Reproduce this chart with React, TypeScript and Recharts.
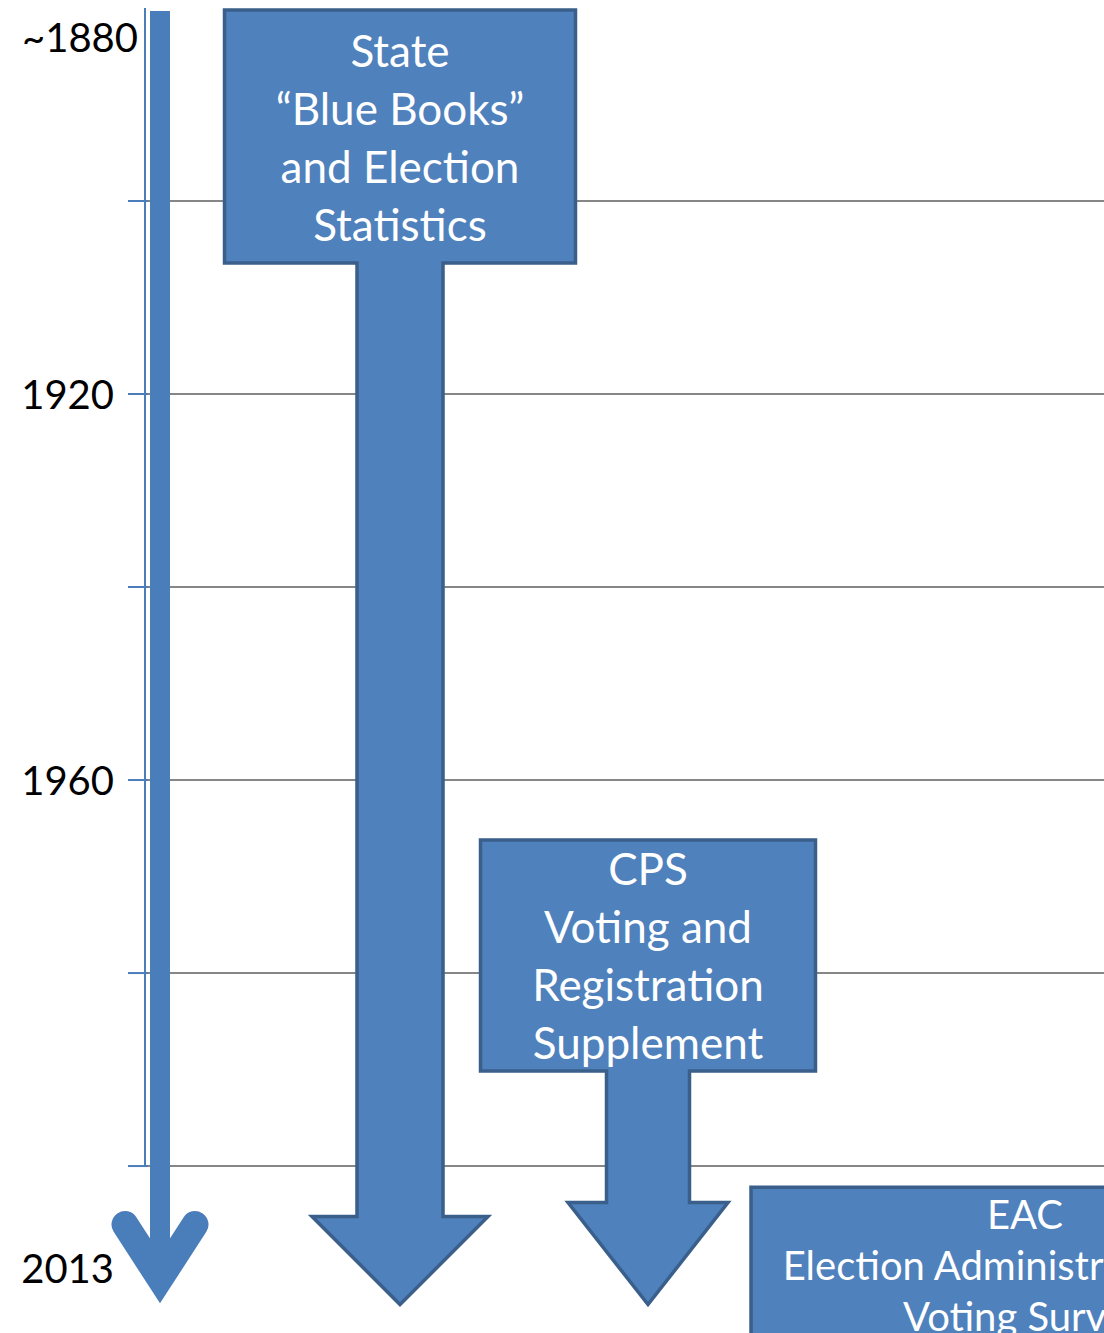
import React from "react";
import {
  ComposedChart,
  Bar,
  XAxis,
  YAxis,
  CartesianGrid,
  ReferenceLine,
  ReferenceArea
} from "recharts";

// data
const sourceNames = ["State Blue Books", "CPS Voting and Registration Supplement", "EAC Election Administration and Voting Survey"];
const sourceLines = [
  ["State", "\u201CBlue Books\u201D", "and Election", "Statistics"],
  ["CPS", "Voting and", "Registration", "Supplement"],
  ["EAC", "Election Administration and", "Voting Survey"]
];
const startYears = [1880, 1966, 2002];
const endYears = [2013, 2013, 2013];
const gridYears = [1900, 1920, 1940, 1960, 1980, 2000];
const tickYears = [1880, 1900, 1920, 1940, 1960, 1980, 2000, 2013];
const tickLabels: Record<number, string> = { 1880: "~1880", 1920: "1920", 1960: "1960", 2013: "2013" };

// layout (pixels)
const laneCenters = [400, 648, 1025];
const arrowStyle = [
  { boxW: 351, boxH: 253, shaftW: 86, headW: 176, headLen: 88, tipPast: 13, lineH: 58, fontSize: 44 },
  { boxW: 335, boxH: 231, shaftW: 83, headW: 160, headLen: 102, tipPast: 13, lineH: 58, fontSize: 44 },
  { boxW: 548, boxH: 156, shaftW: 0, headW: 0, headLen: 0, tipPast: 0, lineH: 51, fontSize: 40 }
];
const labelOffsets: Record<number, number> = { 1880: 29, 1920: 0, 1960: 0, 2013: -24 };

const FONT = "Lato, 'Open Sans', sans-serif";
const FILL = "#4F81BD";
const EDGE = "#3A5F8B";
const AXIS_BLUE = "#4A7EBB";

const data = sourceNames.map((name, i) => ({
  name,
  lane: laneCenters[i],
  span: [startYears[i], endYears[i]],
  lines: sourceLines[i]
}));

function SourceArrow(props: any) {
  const { x, y, width, height, index } = props;
  const entry = props.payload ?? props;
  const s = arrowStyle[index];
  const cx = x + width / 2;
  const top = Math.min(y, y + height) + 2;
  const bottom = Math.max(y, y + height);
  const bx0 = cx - s.boxW / 2;
  const bx1 = cx + s.boxW / 2;
  const by1 = top + s.boxH;
  let d: string;
  if (s.headLen) {
    const tip = bottom + s.tipPast;
    const hb = tip - s.headLen;
    d = `M${bx0},${top} H${bx1} V${by1} H${cx + s.shaftW / 2} V${hb} H${cx + s.headW / 2} L${cx},${tip} L${cx - s.headW / 2},${hb} H${cx - s.shaftW / 2} V${by1} H${bx0} Z`;
  } else {
    d = `M${bx0},${top} H${bx1} V${by1} H${bx0} Z`;
  }
  const lines: string[] = entry.lines;
  const midY = top + s.boxH / 2;
  const firstY = midY - ((lines.length - 1) * s.lineH) / 2;
  return (
    <g>
      <path d={d} fill={FILL} stroke={EDGE} strokeWidth={3.5} strokeLinejoin="miter" />
      {lines.map((t, i) => (
        <text
          key={i}
          x={cx}
          y={firstY + i * s.lineH}
          textAnchor="middle"
          dominantBaseline="central"
          fill="#fff"
          fontSize={s.fontSize}
          fontFamily={FONT}
        >
          {t}
        </text>
      ))}
    </g>
  );
}

function TimelineShape(props: any) {
  const { x, y, width, height } = props;
  const cx = x + width / 2;
  const bottom = y + height;
  return (
    <g>
      <rect x={x} y={y + 3} width={width} height={height - 20} fill={AXIS_BLUE} />
      <polyline
        points={`${cx - 35},${bottom - 67} ${cx},${bottom - 13} ${cx + 35},${bottom - 67}`}
        fill="none"
        stroke={AXIS_BLUE}
        strokeWidth={27}
        strokeLinecap="round"
        strokeLinejoin="miter"
      />
    </g>
  );
}

function YearTick(props: any) {
  const { x, y, payload } = props;
  const v = payload.value as number;
  const label = tickLabels[v];
  const isGrid = gridYears.includes(v);
  return (
    <g>
      {isGrid && <line x1={x - 17} x2={x + 3} y1={y} y2={y} stroke={AXIS_BLUE} strokeWidth={2} />}
      {label && (
        <text
          x={v === 1880 ? x - 7 : x - 31}
          y={y + labelOffsets[v]}
          textAnchor="end"
          dominantBaseline="central"
          fill="#000"
          fontSize={40}
          fontFamily={FONT}
        >
          {label}
        </text>
      )}
    </g>
  );
}

export default function App() {
  return (
    <div style={{ position: "absolute", left: 0, top: 0, width: 1104, height: 1333, background: "#fff" }}>
      <ComposedChart width={1104} height={1333} data={data} margin={{ top: 8, right: 0, bottom: 41.5, left: 0 }}>
        <CartesianGrid vertical={false} horizontalValues={gridYears} stroke="#868686" strokeWidth={2} />
        <XAxis dataKey="lane" type="number" domain={[145, 1104]} hide />
        <YAxis
          type="number"
          domain={[1880, 2013]}
          reversed
          ticks={tickYears}
          interval={0}
          width={145}
          axisLine={false}
          tickLine={false}
          tickSize={0}
          tickMargin={0}
          tick={<YearTick />}
        />
        <ReferenceLine
          segment={[{ x: 145, y: 1880 }, { x: 145, y: 2000 }]}
          stroke={AXIS_BLUE}
          strokeWidth={2}
        />
        <ReferenceArea x1={150} x2={170} y1={1880} y2={2013} shape={TimelineShape} />
        <Bar dataKey="span" barSize={20} shape={SourceArrow} isAnimationActive={false} />
      </ComposedChart>
    </div>
  );
}
